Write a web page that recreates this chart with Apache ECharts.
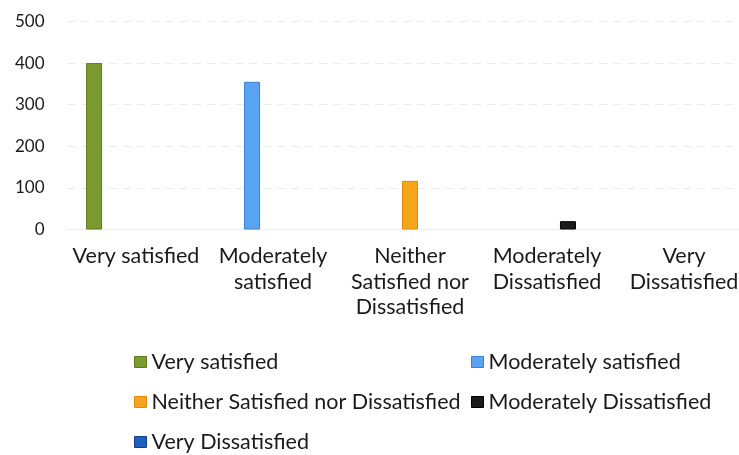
<!DOCTYPE html>
<html>
<head>
<meta charset="utf-8">
<script src="https://cdn.jsdelivr.net/npm/echarts@6/dist/echarts.min.js"></script>
<style>
html,body{margin:0;padding:0;background:#fff;overflow:hidden;width:739px;height:455px;}
#c{width:770px;height:455px;}
</style>
</head>
<body>
<div id="c"></div>
<script>
const categories = ['Very satisfied', 'Moderately satisfied', 'Neither Satisfied nor Dissatisfied', 'Moderately Dissatisfied', 'Very Dissatisfied'];
const tickLabels = ['Very satisfied', 'Moderately\nsatisfied', 'Neither\nSatisfied nor\nDissatisfied', 'Moderately\nDissatisfied', 'Very\nDissatisfied'];
const values = [400, 355, 117, 20, 0];
const colors = ['#7b9a30', '#5aa3f2', '#f7a41d', '#1a1a1a', '#1d5fbf'];
const borders = ['#5b7a1c', '#3b80d2', '#e08c0a', '#000000', '#123f8a'];
const yTicks = [0, 100, 200, 300, 400, 500];

const FONT = 'Lato';
const chart = echarts.init(document.getElementById('c'), null, {renderer: 'canvas'});

const series = categories.map((name, i) => ({
  name: name,
  type: 'bar',
  barWidth: 16,
  barGap: '31%',
  data: categories.map((c, j) => j === i ? values[i] : '-'),
  itemStyle: {color: colors[i], borderColor: borders[i], borderWidth: values[i] > 0 ? 1 : 0},
  emphasis: {disabled: true}
}));

const legendPos = [
  {left: 129, top: 346},
  {left: 466, top: 346},
  {left: 129, top: 386},
  {left: 466, top: 386},
  {left: 129, top: 426}
];
const legends = categories.map((name, i) => ({
  data: [name],
  left: legendPos[i].left,
  top: legendPos[i].top,
  icon: 'rect',
  itemWidth: 12,
  itemHeight: 11,
  itemGap: 4,
  selectedMode: false,
  itemStyle: {color: colors[i], borderColor: borders[i], borderWidth: 1},
  textStyle: {fontFamily: FONT, fontSize: 21.5, color: '#1a1a1a'}
}));

chart.setOption({
  animation: false,
  backgroundColor: '#ffffff',
  color: colors,
  grid: {left: 67.5, right: 17.5, top: 21.5, bottom: 225.5},
  legend: legends,
  xAxis: {
    type: 'category',
    data: categories,
    axisLine: {show: true, lineStyle: {color: '#eeeeee'}},
    axisTick: {show: false},
    axisLabel: {
      interval: 0,
      margin: 14,
      fontFamily: FONT,
      fontSize: 21.5,
      lineHeight: 25.5,
      color: '#1a1a1a',
      formatter: (v, idx) => tickLabels[idx]
    }
  },
  yAxis: {
    type: 'value',
    min: 0,
    max: 500,
    interval: 100,
    axisLine: {show: false},
    axisTick: {show: false},
    splitLine: {lineStyle: {color: '#ebebeb', type: [8, 6]}},
    axisLabel: {
      margin: 23,
      fontFamily: FONT,
      fontSize: 17,
      color: '#1a1a1a',
      formatter: v => yTicks.includes(v) ? String(v) : ''
    }
  },
  series: series
});
</script>
</body>
</html>
